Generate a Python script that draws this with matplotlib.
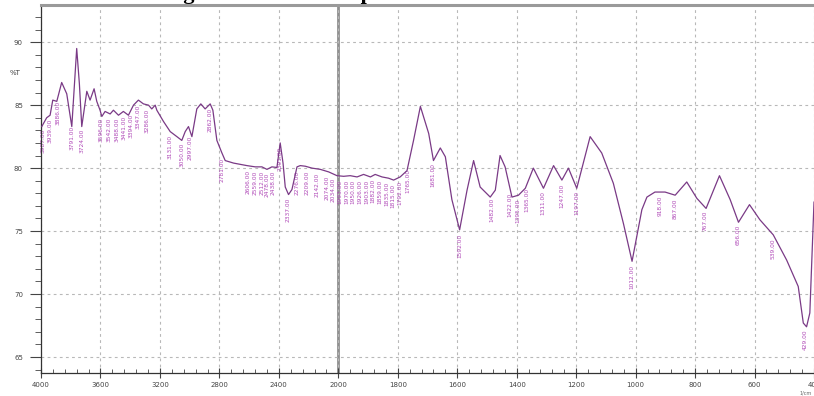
"""
FTIR transmittance spectrum (Shimadzu-style plot, split wavenumber scale at 2000).
"""

import numpy as np
import matplotlib
matplotlib.use('Agg')
import matplotlib.pyplot as plt
import matplotlib.ticker as mticker

# ─────────────────────────────────────────
# DATA
# ─────────────────────────────────────────
wavenumber = [
    3995, 3962, 3939, 3921, 3894, 3861, 3827, 3793, 3760, 3742, 3726, 3692,
    3670, 3643, 3625, 3603, 3591, 3569, 3535, 3513, 3479, 3446, 3412, 3378,
    3345, 3311, 3277, 3255, 3232, 3221, 3176, 3131, 3086, 3053, 3030, 3008,
    2985, 2952, 2925, 2896, 2862, 2844, 2817, 2783, 2761, 2705, 2615, 2559,
    2514, 2480, 2447, 2413, 2391, 2372, 2357, 2335, 2312, 2278, 2256, 2222,
    2177, 2121, 2065, 2009, 1982, 1960, 1937, 1915, 1892, 1876, 1853, 1831,
    1814, 1792, 1769, 1747, 1724, 1696, 1680, 1657, 1640, 1618, 1592, 1567,
    1545, 1523, 1489, 1472, 1456, 1439, 1416, 1394, 1371, 1344, 1310, 1276,
    1248, 1226, 1198, 1153, 1114, 1075, 1041, 1012, 979, 962, 935, 901,
    867, 828, 794, 763, 718, 682, 654, 617, 582, 537, 492, 453,
    436, 425, 414, 400,
]
transmittance = [
    83.3, 84.0, 84.2, 85.4, 85.3, 86.8, 85.9, 83.3, 89.5, 86.7, 83.3, 86.1,
    85.4, 86.3, 85.3, 84.6, 84.1, 84.5, 84.3, 84.6, 84.2, 84.5, 84.2, 85.0,
    85.4, 85.1, 85.0, 84.7, 85.0, 84.6, 83.7, 82.9, 82.5, 82.2, 82.9, 83.3,
    82.5, 84.7, 85.1, 84.7, 85.1, 84.6, 82.2, 81.2, 80.6, 80.4, 80.2, 80.1,
    80.1, 79.9, 80.1, 80.05, 82.0, 80.4, 78.5, 77.9, 78.3, 80.1, 80.2, 80.15,
    80.0, 79.9, 79.7, 79.4, 79.35, 79.4, 79.3, 79.5, 79.3, 79.5, 79.3, 79.2,
    79.05, 79.3, 79.8, 82.2, 84.9, 82.75, 80.6, 81.6, 80.9, 77.5, 75.1, 78.25,
    80.6, 78.5, 77.7, 78.25, 81.0, 80.1, 77.7, 77.85, 78.4, 80.0, 78.4, 80.2,
    79.05, 80.0, 78.4, 82.5, 81.2, 78.8, 75.6, 72.6, 76.7, 77.7, 78.1, 78.1,
    77.85, 78.9, 77.6, 76.8, 79.4, 77.5, 75.7, 77.1, 75.9, 74.7, 72.7, 70.6,
    67.7, 67.4, 68.5, 77.3,
]

# wavenumbers carrying a peak-pick label
peak_wn = [
    3987, 3939, 3886, 3791, 3724, 3596, 3542, 3488, 3441, 3394, 3347, 3286,
    3131, 3050, 2997, 2862, 2781,
    2606, 2559, 2512, 2478, 2438, 2391, 2337, 2276, 2209, 2142, 2074, 2034,
    1993, 1970, 1950, 1926, 1903, 1882, 1859, 1835, 1815, 1792, 1765,
    1681, 1592, 1482, 1422, 1395, 1365, 1311, 1247, 1197,
    1012, 918, 867, 767, 656, 539, 429,
]

x_major = [4000, 3600, 3200, 2800, 2400, 2000, 1800, 1600, 1400, 1200,
           1000, 800, 600, 400]
y_major = [65, 70, 75, 80, 85, 90]

LINE_COLOR  = '#7a3a86'
LABEL_COLOR = '#b04ab8'
GRID_COLOR  = '#b8b8b8'


# split scale: 4000-2000 compressed by a factor of two
def fwd(x):
    x = np.asarray(x, dtype=float)
    return np.where(x >= 2000, 2000 + (x - 2000) / 2.0, x)


def inv(y):
    y = np.asarray(y, dtype=float)
    return np.where(y >= 2000, 2000 + (y - 2000) * 2.0, y)


# ─────────────────────────────────────────
# PLOT
# ─────────────────────────────────────────
fig = plt.figure(figsize=(8.14, 3.96), dpi=100)
ax = fig.add_axes([0.0504, 0.058, 0.9496, 0.929])

ax.set_xscale('function', functions=(fwd, inv))
ax.set_xlim(4000, 400)
ax.set_ylim(63.73, 92.94)

ax.plot(wavenumber, transmittance, color=LINE_COLOR, lw=0.9, zorder=3)

# peak-pick labels hanging below the trace
wn_sorted = np.array(wavenumber)[::-1]
t_sorted = np.array(transmittance)[::-1]
for wn in peak_wn:
    t = np.interp(wn, wn_sorted, t_sorted)
    ax.text(wn, t - 0.3, f'{wn:.2f}', rotation=90, ha='center', va='top',
            fontsize=4.2, color=LABEL_COLOR, zorder=2)

# axes cosmetics
ax.xaxis.set_major_locator(mticker.FixedLocator(x_major))
ax.xaxis.set_major_formatter(mticker.FixedFormatter([str(v) for v in x_major]))
x_minor = list(np.arange(4000, 2000, -80)) + list(np.arange(2000, 400, -40))
ax.xaxis.set_minor_locator(mticker.FixedLocator(x_minor))
ax.xaxis.set_minor_formatter(mticker.NullFormatter())

ax.yaxis.set_major_locator(mticker.FixedLocator(y_major))
ax.yaxis.set_minor_locator(mticker.MultipleLocator(1))

ax.tick_params(axis='x', which='major', direction='inout', length=7,
               width=0.8, labelsize=5, colors='#444444', pad=3)
ax.tick_params(axis='x', which='minor', direction='in', length=3, width=0.6,
               colors='#444444')
ax.tick_params(axis='y', which='major', direction='out', length=8,
               width=0.8, labelsize=5, colors='#444444', pad=5)
ax.tick_params(axis='y', which='minor', direction='out', length=4,
               width=0.6, colors='#444444')

ax.grid(True, which='major', color=GRID_COLOR, linestyle=(0, (2.5, 3)), lw=0.8)

for side in ['left', 'bottom']:
    ax.spines[side].set_color('#333333')
    ax.spines[side].set_linewidth(0.9)
ax.spines['top'].set_color('#9a9a9a')
ax.spines['top'].set_linewidth(2.2)
ax.spines['right'].set_visible(False)

# separator at the scale change
ax.axvline(2000, color='#8f8f8f', lw=2.0, zorder=1)

fig.text(15 / 814, 1 - 73 / 396, '%T', fontsize=5, color='#444444',
         ha='center', va='center')
fig.text(806 / 814, 1 - 393 / 396, '1/cm', fontsize=3.5, color='#666666',
         ha='center', va='center')

# caption line above the frame, cropped off so only descenders remain
fig.text(50 / 814, 1 + 1 / 396, 'Chart Showing FTIR of the Sample',
         fontsize=16, fontweight='bold', family='Liberation Serif',
         color='black', ha='left', va='baseline')

fig.savefig('out.png', dpi=100)
plt.close(fig)
